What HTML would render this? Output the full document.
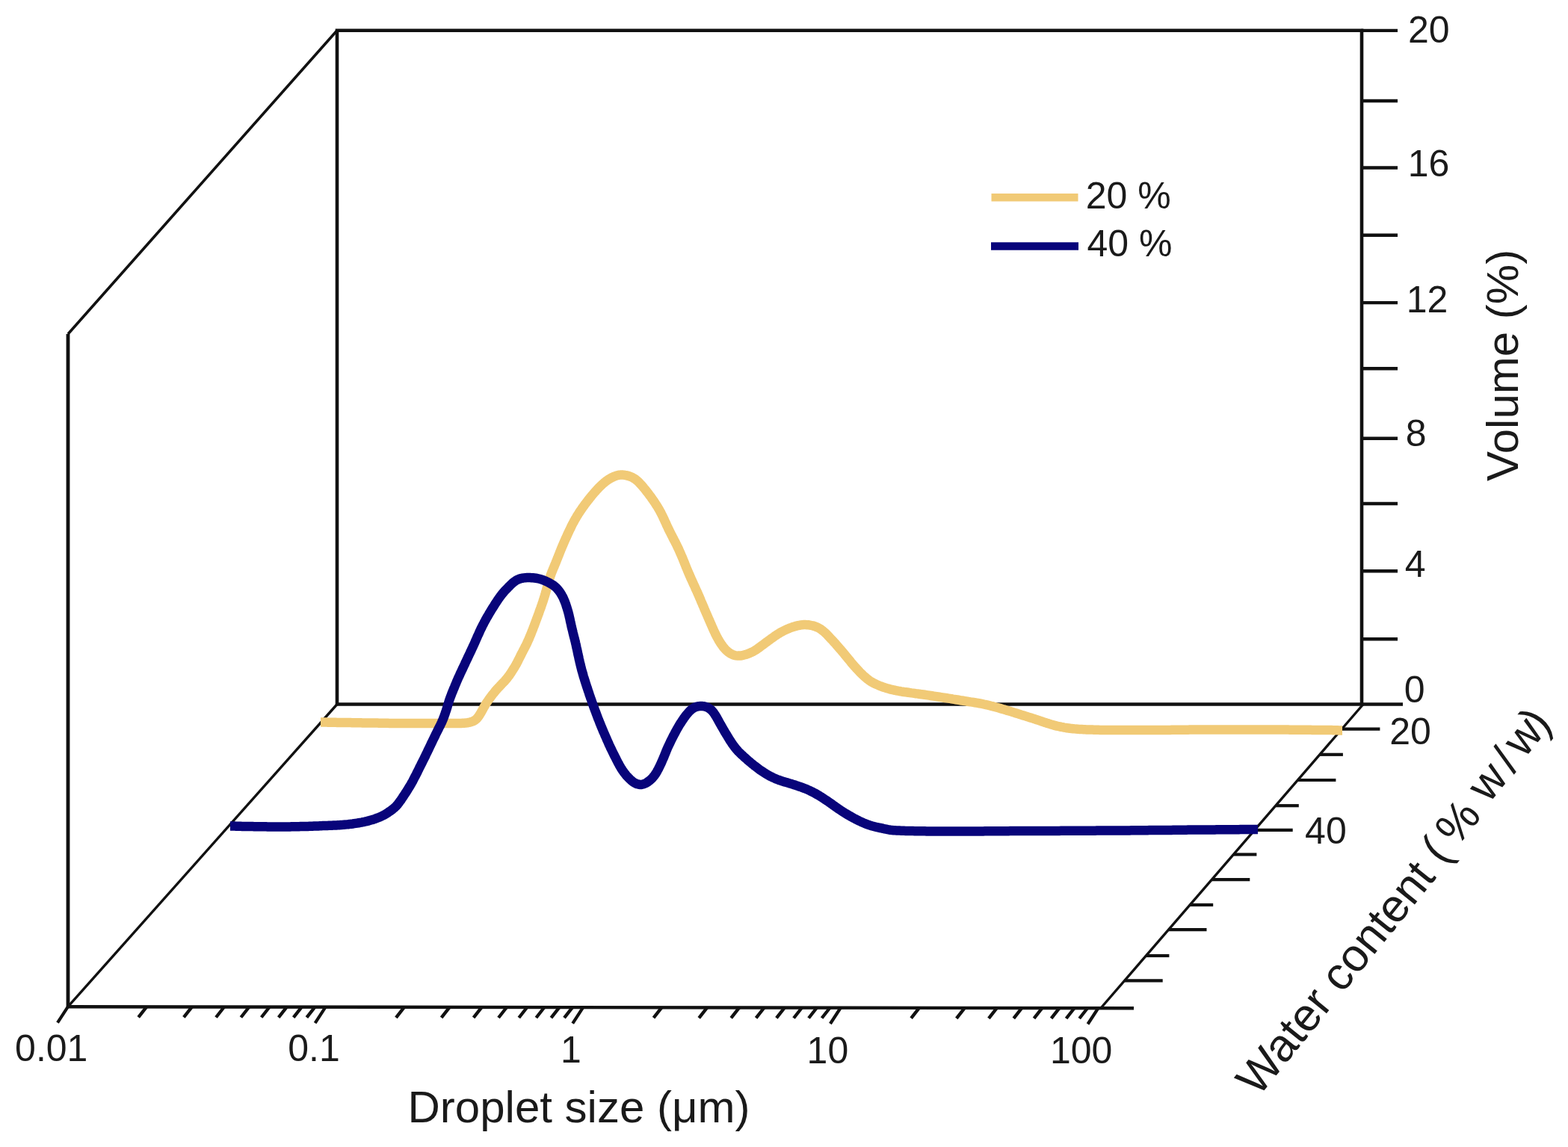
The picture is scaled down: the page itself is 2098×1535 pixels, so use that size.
<!DOCTYPE html>
<html><head><meta charset="utf-8"><title>Droplet size distribution</title>
<style>
html,body{margin:0;padding:0;background:#fff;}
body{width:2098px;height:1535px;overflow:hidden;}
svg{display:block;}
.tk{font-family:"Liberation Sans",sans-serif;font-size:50px;fill:#1a1a1a;}
.ti{font-family:"Liberation Sans",sans-serif;font-size:60px;fill:#1a1a1a;}
</style></head>
<body>
<svg width="2098" height="1535" viewBox="0 0 2098 1535">
<rect width="2098" height="1535" fill="#fff"/>
<path d="M451.0,40.7 L1822.0,40.7 L1822.0,942.5 L451.0,942.5 Z" fill="none" stroke="#111" stroke-width="4.6" stroke-linejoin="miter"/>
<line x1="91.0" y1="447.0" x2="91.0" y2="1347.2" stroke="#111" stroke-width="4.8" stroke-linecap="butt"/>
<line x1="91.0" y1="447.0" x2="451.0" y2="40.7" stroke="#111" stroke-width="3.6" stroke-linecap="butt"/>
<line x1="451.0" y1="942.5" x2="91.0" y2="1347.2" stroke="#111" stroke-width="3.4" stroke-linecap="butt"/>
<line x1="91.0" y1="1347.2" x2="1517.0" y2="1349.2" stroke="#111" stroke-width="4.4" stroke-linecap="butt"/>
<line x1="1824.0" y1="942.5" x2="1473.0" y2="1349.0" stroke="#111" stroke-width="3.4" stroke-linecap="butt"/>
<line x1="1821.0" y1="942.5" x2="1877.0" y2="942.5" stroke="#111" stroke-width="4.4" stroke-linecap="butt"/>
<line x1="1821.0" y1="855.2" x2="1870.0" y2="855.2" stroke="#111" stroke-width="4.4" stroke-linecap="butt"/>
<line x1="1821.0" y1="764.3" x2="1870.0" y2="764.3" stroke="#111" stroke-width="4.4" stroke-linecap="butt"/>
<line x1="1821.0" y1="674.0" x2="1870.0" y2="674.0" stroke="#111" stroke-width="4.4" stroke-linecap="butt"/>
<line x1="1821.0" y1="586.8" x2="1870.0" y2="586.8" stroke="#111" stroke-width="4.4" stroke-linecap="butt"/>
<line x1="1821.0" y1="493.2" x2="1870.0" y2="493.2" stroke="#111" stroke-width="4.4" stroke-linecap="butt"/>
<line x1="1821.0" y1="405.1" x2="1870.0" y2="405.1" stroke="#111" stroke-width="4.4" stroke-linecap="butt"/>
<line x1="1821.0" y1="314.8" x2="1870.0" y2="314.8" stroke="#111" stroke-width="4.4" stroke-linecap="butt"/>
<line x1="1821.0" y1="224.5" x2="1870.0" y2="224.5" stroke="#111" stroke-width="4.4" stroke-linecap="butt"/>
<line x1="1821.0" y1="135.0" x2="1870.0" y2="135.0" stroke="#111" stroke-width="4.4" stroke-linecap="butt"/>
<line x1="1821.0" y1="40.9" x2="1870.0" y2="40.9" stroke="#111" stroke-width="4.4" stroke-linecap="butt"/>
<text x="1883.9" y="57.1" class="tk">20</text>
<text x="1883.8" y="236.1" class="tk">16</text>
<text x="1881.8" y="418.1" class="tk">12</text>
<text x="1880.8" y="597.0" class="tk">8</text>
<text x="1879.7" y="772.1" class="tk">4</text>
<text x="1878.8" y="939.8" class="tk">0</text>
<line x1="91.0" y1="1347.2" x2="77.0" y2="1368.7" stroke="#111" stroke-width="4.2" stroke-linecap="butt"/>
<line x1="196.2" y1="1347.3" x2="185.2" y2="1361.3" stroke="#111" stroke-width="4.4" stroke-linecap="butt"/>
<line x1="256.9" y1="1347.4" x2="245.9" y2="1361.4" stroke="#111" stroke-width="4.4" stroke-linecap="butt"/>
<line x1="300.0" y1="1347.5" x2="289.0" y2="1361.5" stroke="#111" stroke-width="4.4" stroke-linecap="butt"/>
<line x1="333.4" y1="1347.5" x2="322.4" y2="1361.5" stroke="#111" stroke-width="4.4" stroke-linecap="butt"/>
<line x1="360.7" y1="1347.5" x2="349.7" y2="1361.5" stroke="#111" stroke-width="4.4" stroke-linecap="butt"/>
<line x1="383.7" y1="1347.6" x2="372.7" y2="1361.6" stroke="#111" stroke-width="4.4" stroke-linecap="butt"/>
<line x1="403.7" y1="1347.6" x2="392.7" y2="1361.6" stroke="#111" stroke-width="4.4" stroke-linecap="butt"/>
<line x1="421.4" y1="1347.6" x2="410.4" y2="1361.6" stroke="#111" stroke-width="4.4" stroke-linecap="butt"/>
<line x1="435.6" y1="1347.6" x2="421.6" y2="1369.1" stroke="#111" stroke-width="4.2" stroke-linecap="butt"/>
<line x1="540.9" y1="1347.8" x2="529.9" y2="1361.8" stroke="#111" stroke-width="4.4" stroke-linecap="butt"/>
<line x1="601.6" y1="1347.9" x2="590.6" y2="1361.9" stroke="#111" stroke-width="4.4" stroke-linecap="butt"/>
<line x1="644.6" y1="1347.9" x2="633.6" y2="1361.9" stroke="#111" stroke-width="4.4" stroke-linecap="butt"/>
<line x1="678.0" y1="1348.0" x2="667.0" y2="1362.0" stroke="#111" stroke-width="4.4" stroke-linecap="butt"/>
<line x1="705.3" y1="1348.0" x2="694.3" y2="1362.0" stroke="#111" stroke-width="4.4" stroke-linecap="butt"/>
<line x1="728.4" y1="1348.0" x2="717.4" y2="1362.0" stroke="#111" stroke-width="4.4" stroke-linecap="butt"/>
<line x1="748.4" y1="1348.1" x2="737.4" y2="1362.1" stroke="#111" stroke-width="4.4" stroke-linecap="butt"/>
<line x1="766.0" y1="1348.1" x2="755.0" y2="1362.1" stroke="#111" stroke-width="4.4" stroke-linecap="butt"/>
<line x1="780.2" y1="1348.1" x2="766.2" y2="1369.6" stroke="#111" stroke-width="4.2" stroke-linecap="butt"/>
<line x1="885.5" y1="1348.2" x2="874.5" y2="1362.2" stroke="#111" stroke-width="4.4" stroke-linecap="butt"/>
<line x1="946.2" y1="1348.3" x2="935.2" y2="1362.3" stroke="#111" stroke-width="4.4" stroke-linecap="butt"/>
<line x1="989.2" y1="1348.4" x2="978.2" y2="1362.4" stroke="#111" stroke-width="4.4" stroke-linecap="butt"/>
<line x1="1022.6" y1="1348.4" x2="1011.6" y2="1362.4" stroke="#111" stroke-width="4.4" stroke-linecap="butt"/>
<line x1="1049.9" y1="1348.4" x2="1038.9" y2="1362.4" stroke="#111" stroke-width="4.4" stroke-linecap="butt"/>
<line x1="1073.0" y1="1348.5" x2="1062.0" y2="1362.5" stroke="#111" stroke-width="4.4" stroke-linecap="butt"/>
<line x1="1093.0" y1="1348.5" x2="1082.0" y2="1362.5" stroke="#111" stroke-width="4.4" stroke-linecap="butt"/>
<line x1="1110.6" y1="1348.5" x2="1099.6" y2="1362.5" stroke="#111" stroke-width="4.4" stroke-linecap="butt"/>
<line x1="1124.9" y1="1348.5" x2="1110.9" y2="1370.0" stroke="#111" stroke-width="4.2" stroke-linecap="butt"/>
<line x1="1230.1" y1="1348.7" x2="1219.1" y2="1362.7" stroke="#111" stroke-width="4.4" stroke-linecap="butt"/>
<line x1="1290.8" y1="1348.8" x2="1279.8" y2="1362.8" stroke="#111" stroke-width="4.4" stroke-linecap="butt"/>
<line x1="1333.9" y1="1348.8" x2="1322.9" y2="1362.8" stroke="#111" stroke-width="4.4" stroke-linecap="butt"/>
<line x1="1367.3" y1="1348.9" x2="1356.3" y2="1362.9" stroke="#111" stroke-width="4.4" stroke-linecap="butt"/>
<line x1="1394.5" y1="1348.9" x2="1383.5" y2="1362.9" stroke="#111" stroke-width="4.4" stroke-linecap="butt"/>
<line x1="1417.6" y1="1348.9" x2="1406.6" y2="1362.9" stroke="#111" stroke-width="4.4" stroke-linecap="butt"/>
<line x1="1437.6" y1="1349.0" x2="1426.6" y2="1363.0" stroke="#111" stroke-width="4.4" stroke-linecap="butt"/>
<line x1="1455.2" y1="1349.0" x2="1444.2" y2="1363.0" stroke="#111" stroke-width="4.4" stroke-linecap="butt"/>
<line x1="1469.5" y1="1349.0" x2="1455.5" y2="1370.5" stroke="#111" stroke-width="4.2" stroke-linecap="butt"/>
<text x="20.1" y="1419.5" class="tk">0.01</text>
<text x="385.3" y="1419.8" class="tk">0.1</text>
<text x="749.9" y="1421.7" class="tk">1</text>
<text x="1079.6" y="1422.9" class="tk">10</text>
<text x="1404.9" y="1422.9" class="tk">100</text>
<line x1="1795.4" y1="975.6" x2="1846.4" y2="975.6" stroke="#111" stroke-width="4.2" stroke-linecap="butt"/>
<line x1="1765.9" y1="1009.8" x2="1796.9" y2="1009.8" stroke="#111" stroke-width="4.2" stroke-linecap="butt"/>
<line x1="1736.4" y1="1044.0" x2="1787.4" y2="1044.0" stroke="#111" stroke-width="4.2" stroke-linecap="butt"/>
<line x1="1706.8" y1="1078.2" x2="1737.8" y2="1078.2" stroke="#111" stroke-width="4.2" stroke-linecap="butt"/>
<line x1="1678.7" y1="1110.8" x2="1729.7" y2="1110.8" stroke="#111" stroke-width="4.2" stroke-linecap="butt"/>
<line x1="1650.4" y1="1143.5" x2="1681.4" y2="1143.5" stroke="#111" stroke-width="4.2" stroke-linecap="butt"/>
<line x1="1621.3" y1="1177.2" x2="1672.3" y2="1177.2" stroke="#111" stroke-width="4.2" stroke-linecap="butt"/>
<line x1="1592.2" y1="1211.0" x2="1623.2" y2="1211.0" stroke="#111" stroke-width="4.2" stroke-linecap="butt"/>
<line x1="1563.5" y1="1244.2" x2="1614.5" y2="1244.2" stroke="#111" stroke-width="4.2" stroke-linecap="butt"/>
<line x1="1533.4" y1="1279.0" x2="1564.4" y2="1279.0" stroke="#111" stroke-width="4.2" stroke-linecap="butt"/>
<line x1="1504.7" y1="1312.3" x2="1555.7" y2="1312.3" stroke="#111" stroke-width="4.2" stroke-linecap="butt"/>
<line x1="1473.0" y1="1349.0" x2="1517.0" y2="1349.0" stroke="#111" stroke-width="4.2" stroke-linecap="butt"/>
<text x="1859.3" y="995.6" class="tk">20</text>
<text x="1746.1" y="1129.0" class="tk">40</text>
<path d="M429.0,966.5 L431.0,966.5 L433.0,966.6 L435.0,966.6 L437.0,966.6 L439.0,966.7 L441.0,966.7 L443.0,966.7 L445.0,966.8 L447.0,966.8 L449.0,966.8 L451.0,966.9 L453.0,966.9 L455.0,966.9 L457.0,967.0 L459.0,967.0 L461.0,967.0 L463.0,967.0 L465.0,967.1 L467.0,967.1 L469.0,967.1 L471.0,967.2 L473.0,967.2 L475.0,967.2 L477.0,967.3 L479.0,967.3 L481.0,967.3 L483.0,967.3 L485.0,967.4 L487.0,967.4 L489.0,967.4 L491.0,967.4 L493.0,967.5 L495.0,967.5 L497.0,967.5 L499.0,967.6 L501.0,967.6 L503.0,967.6 L505.0,967.6 L507.0,967.7 L509.0,967.7 L511.0,967.7 L513.0,967.8 L515.0,967.8 L517.0,967.8 L519.0,967.8 L521.0,967.9 L523.0,967.9 L525.0,967.9 L527.0,967.9 L529.0,967.9 L531.0,968.0 L533.0,968.0 L535.0,968.0 L537.0,968.0 L539.0,968.0 L541.0,968.0 L543.0,968.0 L545.0,968.0 L547.0,968.0 L549.0,968.0 L551.0,968.0 L553.0,968.0 L555.0,968.0 L557.0,968.0 L559.0,968.0 L561.0,968.0 L563.0,968.0 L565.0,968.0 L567.0,968.0 L569.0,968.0 L571.0,968.0 L573.0,968.0 L575.0,968.0 L577.0,968.0 L579.0,968.0 L581.0,968.0 L583.0,968.0 L585.0,968.0 L587.0,968.0 L589.0,968.0 L591.0,968.0 L593.0,968.0 L595.0,968.0 L597.0,968.0 L599.0,968.0 L601.0,968.0 L603.0,968.0 L605.0,968.0 L607.0,968.0 L609.0,968.0 L611.0,968.0 L613.0,968.0 L615.0,967.9 L617.0,967.9 L619.0,967.8 L621.0,967.7 L623.0,967.6 L624.9,967.3 L626.9,967.0 L628.8,966.6 L630.7,966.0 L632.6,965.3 L634.3,964.5 L636.0,963.4 L637.5,962.2 L638.8,960.8 L640.0,959.2 L641.2,957.6 L642.2,955.9 L643.3,954.2 L644.2,952.5 L645.2,950.7 L646.1,949.0 L647.1,947.2 L648.1,945.5 L649.1,943.7 L650.1,942.0 L651.2,940.3 L652.3,938.7 L653.5,937.0 L654.6,935.4 L655.8,933.8 L657.0,932.2 L658.2,930.6 L659.4,929.0 L660.7,927.5 L661.9,925.9 L663.2,924.4 L664.5,922.8 L665.8,921.3 L667.2,919.9 L668.6,918.4 L669.9,917.0 L671.3,915.6 L672.7,914.1 L674.1,912.7 L675.5,911.2 L676.8,909.7 L678.1,908.2 L679.3,906.6 L680.5,905.0 L681.7,903.4 L682.8,901.8 L683.9,900.1 L685.0,898.4 L686.1,896.7 L687.1,895.0 L688.2,893.3 L689.2,891.6 L690.2,889.9 L691.2,888.1 L692.1,886.4 L693.0,884.6 L693.9,882.8 L694.8,881.0 L695.7,879.2 L696.6,877.4 L697.5,875.6 L698.4,873.8 L699.3,872.1 L700.2,870.3 L701.2,868.5 L702.1,866.7 L703.0,865.0 L703.9,863.2 L704.8,861.4 L705.6,859.6 L706.4,857.8 L707.3,855.9 L708.1,854.1 L708.8,852.3 L709.6,850.4 L710.4,848.6 L711.1,846.7 L711.8,844.8 L712.6,843.0 L713.3,841.1 L714.0,839.2 L714.7,837.4 L715.4,835.5 L716.1,833.6 L716.8,831.8 L717.5,829.9 L718.2,828.0 L718.9,826.1 L719.6,824.3 L720.3,822.4 L721.0,820.5 L721.6,818.6 L722.3,816.7 L723.0,814.8 L723.7,813.0 L724.3,811.1 L725.0,809.2 L725.6,807.3 L726.3,805.4 L726.9,803.5 L727.5,801.6 L728.1,799.7 L728.7,797.8 L729.3,795.9 L729.8,793.9 L730.4,792.0 L730.9,790.1 L731.4,788.2 L731.9,786.2 L732.5,784.3 L733.0,782.4 L733.5,780.4 L734.1,778.5 L734.6,776.6 L735.2,774.7 L735.8,772.8 L736.4,770.9 L737.1,769.0 L737.8,767.1 L738.5,765.3 L739.3,763.4 L740.0,761.5 L740.8,759.7 L741.6,757.9 L742.3,756.0 L743.1,754.2 L743.9,752.3 L744.6,750.5 L745.3,748.6 L746.1,746.7 L746.8,744.9 L747.6,743.0 L748.3,741.2 L749.0,739.3 L749.8,737.4 L750.5,735.6 L751.3,733.7 L752.0,731.9 L752.8,730.1 L753.6,728.2 L754.4,726.4 L755.2,724.5 L756.0,722.7 L756.8,720.9 L757.7,719.1 L758.5,717.2 L759.3,715.4 L760.1,713.6 L761.0,711.8 L761.8,710.0 L762.7,708.2 L763.6,706.4 L764.4,704.6 L765.3,702.8 L766.2,701.0 L767.2,699.2 L768.1,697.5 L769.1,695.7 L770.1,694.0 L771.1,692.3 L772.1,690.5 L773.2,688.8 L774.2,687.2 L775.3,685.5 L776.4,683.8 L777.6,682.2 L778.7,680.5 L779.8,678.9 L781.0,677.3 L782.2,675.6 L783.4,674.0 L784.6,672.4 L785.8,670.9 L787.0,669.3 L788.3,667.7 L789.5,666.1 L790.8,664.6 L792.0,663.0 L793.3,661.5 L794.6,660.0 L795.9,658.5 L797.3,657.0 L798.6,655.5 L800.0,654.0 L801.3,652.6 L802.7,651.2 L804.2,649.8 L805.6,648.4 L807.1,647.1 L808.6,645.8 L810.2,644.5 L811.8,643.3 L813.4,642.2 L815.1,641.1 L816.8,640.1 L818.6,639.2 L820.4,638.3 L822.2,637.5 L824.1,636.8 L826.0,636.3 L827.9,635.8 L829.9,635.6 L831.8,635.5 L833.8,635.6 L835.8,635.8 L837.7,636.1 L839.7,636.6 L841.6,637.1 L843.5,637.8 L845.3,638.5 L847.0,639.4 L848.7,640.5 L850.4,641.6 L851.9,642.8 L853.4,644.1 L854.9,645.5 L856.2,646.9 L857.6,648.4 L858.9,649.9 L860.2,651.4 L861.5,653.0 L862.8,654.5 L864.0,656.1 L865.2,657.7 L866.5,659.2 L867.7,660.8 L868.9,662.4 L870.1,664.0 L871.3,665.6 L872.4,667.3 L873.6,668.9 L874.7,670.5 L875.8,672.2 L876.9,673.9 L878.0,675.6 L879.1,677.2 L880.1,678.9 L881.2,680.7 L882.2,682.4 L883.1,684.1 L884.1,685.9 L885.0,687.7 L885.9,689.5 L886.8,691.3 L887.6,693.1 L888.5,694.9 L889.3,696.7 L890.1,698.5 L891.0,700.3 L891.8,702.2 L892.6,704.0 L893.5,705.8 L894.3,707.6 L895.2,709.4 L896.1,711.2 L897.0,713.0 L897.9,714.8 L898.8,716.5 L899.7,718.3 L900.6,720.1 L901.5,721.9 L902.5,723.7 L903.4,725.4 L904.3,727.2 L905.2,729.0 L906.0,730.8 L906.9,732.6 L907.8,734.4 L908.6,736.2 L909.4,738.1 L910.2,739.9 L911.0,741.7 L911.8,743.6 L912.6,745.4 L913.4,747.2 L914.1,749.1 L914.9,751.0 L915.6,752.8 L916.4,754.7 L917.1,756.5 L917.8,758.4 L918.6,760.2 L919.4,762.1 L920.1,763.9 L920.9,765.8 L921.7,767.6 L922.5,769.4 L923.3,771.3 L924.1,773.1 L924.9,774.9 L925.8,776.7 L926.6,778.6 L927.4,780.4 L928.2,782.2 L929.1,784.0 L929.9,785.8 L930.7,787.7 L931.5,789.5 L932.4,791.3 L933.2,793.1 L934.0,795.0 L934.8,796.8 L935.6,798.6 L936.4,800.5 L937.2,802.3 L937.9,804.2 L938.7,806.0 L939.5,807.8 L940.3,809.7 L941.1,811.5 L941.9,813.4 L942.6,815.2 L943.4,817.0 L944.2,818.9 L945.0,820.7 L945.8,822.5 L946.6,824.4 L947.4,826.2 L948.2,828.1 L949.0,829.9 L949.8,831.7 L950.6,833.6 L951.4,835.4 L952.2,837.2 L953.0,839.1 L953.8,840.9 L954.6,842.7 L955.4,844.5 L956.3,846.3 L957.1,848.1 L958.0,849.9 L958.9,851.7 L959.9,853.5 L960.8,855.2 L961.8,857.0 L962.8,858.7 L963.9,860.4 L965.0,862.0 L966.2,863.7 L967.3,865.3 L968.6,866.8 L969.9,868.4 L971.3,869.8 L972.7,871.2 L974.2,872.4 L975.8,873.6 L977.5,874.7 L979.2,875.6 L981.1,876.4 L982.9,877.0 L984.8,877.4 L986.8,877.6 L988.7,877.6 L990.7,877.5 L992.7,877.2 L994.6,876.8 L996.5,876.3 L998.5,875.7 L1000.3,875.1 L1002.2,874.4 L1004.1,873.6 L1005.9,872.8 L1007.6,871.9 L1009.4,870.9 L1011.1,869.9 L1012.8,868.8 L1014.4,867.6 L1016.0,866.5 L1017.6,865.3 L1019.2,864.1 L1020.8,862.9 L1022.4,861.7 L1024.0,860.5 L1025.6,859.3 L1027.3,858.1 L1028.9,856.9 L1030.5,855.8 L1032.1,854.6 L1033.7,853.4 L1035.4,852.3 L1037.0,851.1 L1038.7,850.0 L1040.3,848.9 L1042.0,847.9 L1043.7,846.8 L1045.5,845.8 L1047.2,844.9 L1049.0,844.0 L1050.8,843.1 L1052.6,842.3 L1054.5,841.5 L1056.3,840.7 L1058.2,840.0 L1060.1,839.3 L1062.0,838.7 L1063.9,838.1 L1065.8,837.6 L1067.7,837.2 L1069.7,836.8 L1071.7,836.4 L1073.6,836.2 L1075.6,836.1 L1077.6,836.1 L1079.6,836.2 L1081.6,836.3 L1083.6,836.6 L1085.5,837.0 L1087.5,837.4 L1089.4,837.9 L1091.3,838.6 L1093.1,839.3 L1094.9,840.1 L1096.7,841.1 L1098.3,842.2 L1099.9,843.3 L1101.5,844.6 L1103.0,845.9 L1104.5,847.2 L1105.9,848.6 L1107.3,850.1 L1108.7,851.5 L1110.0,852.9 L1111.4,854.4 L1112.8,855.9 L1114.2,857.3 L1115.5,858.8 L1116.8,860.3 L1118.2,861.8 L1119.5,863.3 L1120.8,864.8 L1122.1,866.3 L1123.4,867.8 L1124.7,869.3 L1126.0,870.9 L1127.3,872.4 L1128.6,873.9 L1129.9,875.5 L1131.1,877.0 L1132.4,878.6 L1133.7,880.1 L1134.9,881.7 L1136.2,883.2 L1137.5,884.7 L1138.7,886.3 L1140.0,887.8 L1141.3,889.3 L1142.6,890.8 L1144.0,892.4 L1145.3,893.8 L1146.6,895.3 L1148.0,896.8 L1149.4,898.3 L1150.7,899.7 L1152.2,901.1 L1153.6,902.5 L1155.0,903.9 L1156.5,905.2 L1158.0,906.5 L1159.5,907.8 L1161.1,909.1 L1162.7,910.3 L1164.3,911.4 L1166.0,912.5 L1167.8,913.5 L1169.5,914.4 L1171.3,915.3 L1173.1,916.1 L1174.9,916.9 L1176.8,917.7 L1178.6,918.4 L1180.5,919.1 L1182.4,919.8 L1184.3,920.4 L1186.2,921.0 L1188.1,921.5 L1190.1,922.1 L1192.0,922.6 L1194.0,923.0 L1195.9,923.5 L1197.9,923.9 L1199.8,924.3 L1201.8,924.7 L1203.7,925.0 L1205.7,925.4 L1207.7,925.7 L1209.7,926.0 L1211.7,926.2 L1213.6,926.5 L1215.6,926.8 L1217.6,927.1 L1219.6,927.4 L1221.6,927.6 L1223.5,927.9 L1225.5,928.2 L1227.5,928.4 L1229.5,928.7 L1231.5,929.0 L1233.4,929.3 L1235.4,929.5 L1237.4,929.8 L1239.4,930.1 L1241.4,930.4 L1243.3,930.7 L1245.3,931.0 L1247.3,931.3 L1249.3,931.6 L1251.2,931.9 L1253.2,932.2 L1255.2,932.5 L1257.2,932.8 L1259.2,933.1 L1261.1,933.4 L1263.1,933.7 L1265.1,934.0 L1267.1,934.3 L1269.0,934.6 L1271.0,934.9 L1273.0,935.2 L1275.0,935.6 L1276.9,935.9 L1278.9,936.2 L1280.9,936.5 L1282.9,936.8 L1284.8,937.2 L1286.8,937.5 L1288.8,937.8 L1290.8,938.1 L1292.7,938.4 L1294.7,938.8 L1296.7,939.1 L1298.7,939.4 L1300.6,939.6 L1302.6,939.9 L1304.6,940.3 L1306.6,940.6 L1308.5,940.9 L1310.5,941.3 L1312.5,941.6 L1314.4,942.0 L1316.4,942.5 L1318.3,942.9 L1320.3,943.3 L1322.2,943.8 L1324.2,944.3 L1326.1,944.8 L1328.1,945.2 L1330.0,945.8 L1331.9,946.3 L1333.9,946.8 L1335.8,947.3 L1337.7,947.9 L1339.6,948.4 L1341.6,949.0 L1343.5,949.5 L1345.4,950.1 L1347.3,950.7 L1349.2,951.3 L1351.1,951.8 L1353.0,952.4 L1355.0,953.0 L1356.9,953.6 L1358.8,954.2 L1360.7,954.8 L1362.6,955.4 L1364.5,956.0 L1366.4,956.6 L1368.3,957.2 L1370.2,957.8 L1372.1,958.4 L1374.1,959.0 L1376.0,959.6 L1377.9,960.2 L1379.8,960.8 L1381.7,961.4 L1383.6,962.0 L1385.5,962.6 L1387.4,963.3 L1389.3,963.9 L1391.2,964.5 L1393.1,965.2 L1395.0,965.8 L1396.9,966.5 L1398.7,967.1 L1400.7,967.7 L1402.6,968.3 L1404.5,968.9 L1406.4,969.5 L1408.3,970.0 L1410.2,970.6 L1412.2,971.1 L1414.1,971.6 L1416.0,972.0 L1418.0,972.4 L1420.0,972.9 L1421.9,973.2 L1423.9,973.6 L1425.9,973.9 L1427.8,974.3 L1429.8,974.5 L1431.8,974.8 L1433.8,975.0 L1435.8,975.2 L1437.8,975.4 L1439.8,975.6 L1441.7,975.7 L1443.7,975.9 L1445.7,976.0 L1447.7,976.1 L1449.7,976.2 L1451.7,976.3 L1453.7,976.4 L1455.7,976.4 L1457.7,976.5 L1459.7,976.6 L1461.7,976.6 L1463.7,976.7 L1465.7,976.7 L1467.7,976.8 L1469.7,976.8 L1471.7,976.9 L1473.7,976.9 L1475.7,976.9 L1477.7,976.9 L1479.7,977.0 L1481.7,977.0 L1483.7,977.0 L1485.7,977.0 L1487.7,977.0 L1489.7,977.0 L1491.7,977.0 L1493.7,977.0 L1495.7,977.0 L1497.7,977.0 L1499.7,977.0 L1501.7,977.0 L1503.7,977.0 L1505.7,977.0 L1507.7,977.0 L1509.7,977.0 L1511.7,977.0 L1513.7,977.0 L1515.7,977.0 L1517.7,977.0 L1519.7,977.0 L1521.7,977.0 L1523.7,977.0 L1525.7,977.0 L1527.7,977.0 L1529.7,977.0 L1531.7,977.0 L1533.7,977.0 L1535.7,977.0 L1537.7,977.0 L1539.7,977.0 L1541.7,977.0 L1543.7,977.0 L1545.7,977.0 L1547.7,977.0 L1549.7,977.0 L1551.7,977.0 L1553.7,976.9 L1555.7,976.9 L1557.7,976.9 L1559.7,976.9 L1561.7,976.9 L1563.7,976.9 L1565.7,976.9 L1567.7,976.8 L1569.7,976.8 L1571.7,976.8 L1573.7,976.8 L1575.7,976.8 L1577.7,976.8 L1579.7,976.7 L1581.7,976.7 L1583.7,976.7 L1585.7,976.7 L1587.7,976.7 L1589.7,976.7 L1591.7,976.6 L1593.7,976.6 L1595.7,976.6 L1597.7,976.6 L1599.7,976.6 L1601.7,976.6 L1603.7,976.6 L1605.7,976.5 L1607.7,976.5 L1609.7,976.5 L1611.7,976.5 L1613.7,976.5 L1615.7,976.5 L1617.7,976.5 L1619.7,976.5 L1621.7,976.5 L1623.7,976.5 L1625.7,976.5 L1627.7,976.5 L1629.7,976.5 L1631.7,976.5 L1633.7,976.5 L1635.7,976.5 L1637.7,976.4 L1639.7,976.4 L1641.7,976.4 L1643.7,976.4 L1645.7,976.4 L1647.7,976.4 L1649.7,976.4 L1651.7,976.4 L1653.7,976.4 L1655.7,976.4 L1657.7,976.4 L1659.7,976.4 L1661.7,976.4 L1663.7,976.4 L1665.7,976.4 L1667.7,976.4 L1669.7,976.4 L1671.7,976.5 L1673.7,976.5 L1675.7,976.5 L1677.7,976.5 L1679.7,976.5 L1681.7,976.5 L1683.7,976.5 L1685.7,976.5 L1687.7,976.5 L1689.7,976.5 L1691.7,976.5 L1693.7,976.5 L1695.7,976.5 L1697.7,976.5 L1699.7,976.5 L1701.7,976.5 L1703.7,976.5 L1705.7,976.6 L1707.7,976.6 L1709.7,976.6 L1711.7,976.6 L1713.7,976.6 L1715.7,976.6 L1717.7,976.6 L1719.7,976.6 L1721.7,976.6 L1723.7,976.6 L1725.7,976.7 L1727.7,976.7 L1729.7,976.7 L1731.7,976.7 L1733.7,976.7 L1735.7,976.7 L1737.7,976.7 L1739.7,976.7 L1741.7,976.8 L1743.7,976.8 L1745.7,976.8 L1747.7,976.8 L1749.7,976.8 L1751.7,976.8 L1753.7,976.8 L1755.7,976.9 L1757.7,976.9 L1759.7,976.9 L1761.7,976.9 L1763.7,976.9 L1765.7,976.9 L1767.7,977.0 L1769.7,977.0 L1771.7,977.0 L1773.7,977.0 L1775.7,977.0 L1777.7,977.1 L1779.7,977.1 L1781.7,977.1 L1783.7,977.2 L1785.7,977.2 L1787.7,977.3 L1789.7,977.3 L1791.6,977.4 L1793.4,977.4 L1795.1,977.5 L1796.0,977.5" fill="none" stroke="#f1ca76" stroke-width="12.5" stroke-linejoin="round" stroke-linecap="butt"/>
<path d="M308.0,1105.5 L310.0,1105.5 L312.0,1105.6 L314.0,1105.6 L316.0,1105.7 L318.0,1105.7 L320.0,1105.8 L322.0,1105.8 L324.0,1105.9 L326.0,1105.9 L328.0,1105.9 L330.0,1106.0 L332.0,1106.0 L334.0,1106.1 L336.0,1106.1 L338.0,1106.1 L340.0,1106.2 L342.0,1106.2 L344.0,1106.2 L346.0,1106.2 L348.0,1106.3 L350.0,1106.3 L352.0,1106.3 L354.0,1106.3 L356.0,1106.3 L358.0,1106.4 L360.0,1106.4 L362.0,1106.4 L364.0,1106.4 L366.0,1106.4 L368.0,1106.4 L370.0,1106.4 L372.0,1106.4 L374.0,1106.4 L376.0,1106.4 L378.0,1106.4 L380.0,1106.4 L382.0,1106.4 L384.0,1106.4 L386.0,1106.4 L388.0,1106.4 L390.0,1106.3 L392.0,1106.3 L394.0,1106.3 L396.0,1106.3 L398.0,1106.2 L400.0,1106.2 L402.0,1106.1 L404.0,1106.1 L406.0,1106.0 L408.0,1106.0 L410.0,1105.9 L412.0,1105.9 L414.0,1105.8 L416.0,1105.7 L418.0,1105.7 L420.0,1105.6 L422.0,1105.5 L424.0,1105.4 L426.0,1105.4 L428.0,1105.3 L430.0,1105.2 L432.0,1105.1 L434.0,1105.0 L436.0,1105.0 L438.0,1104.9 L440.0,1104.8 L442.0,1104.7 L444.0,1104.7 L446.0,1104.6 L448.0,1104.5 L450.0,1104.4 L452.0,1104.3 L454.0,1104.2 L455.9,1104.0 L457.9,1103.9 L459.9,1103.7 L461.9,1103.6 L463.9,1103.4 L465.9,1103.2 L467.9,1102.9 L469.9,1102.7 L471.9,1102.5 L473.8,1102.2 L475.8,1101.9 L477.8,1101.6 L479.8,1101.3 L481.7,1100.9 L483.7,1100.6 L485.7,1100.2 L487.6,1099.8 L489.6,1099.3 L491.5,1098.9 L493.5,1098.4 L495.4,1097.8 L497.3,1097.3 L499.2,1096.7 L501.1,1096.1 L503.0,1095.4 L504.9,1094.7 L506.7,1094.0 L508.6,1093.2 L510.4,1092.4 L512.2,1091.5 L514.0,1090.6 L515.7,1089.6 L517.4,1088.6 L519.1,1087.5 L520.7,1086.3 L522.4,1085.2 L524.0,1084.0 L525.5,1082.8 L527.1,1081.5 L528.6,1080.2 L530.0,1078.8 L531.3,1077.3 L532.6,1075.8 L533.8,1074.2 L535.0,1072.6 L536.2,1071.0 L537.3,1069.3 L538.4,1067.7 L539.5,1066.0 L540.6,1064.3 L541.7,1062.7 L542.8,1061.0 L543.9,1059.3 L545.0,1057.6 L546.0,1055.9 L547.1,1054.2 L548.1,1052.5 L549.1,1050.8 L550.1,1049.1 L551.1,1047.3 L552.1,1045.6 L553.0,1043.8 L553.9,1042.0 L554.8,1040.2 L555.8,1038.5 L556.7,1036.7 L557.6,1034.9 L558.5,1033.1 L559.4,1031.3 L560.3,1029.5 L561.1,1027.7 L562.0,1026.0 L562.9,1024.2 L563.8,1022.4 L564.7,1020.6 L565.6,1018.8 L566.5,1017.0 L567.4,1015.2 L568.3,1013.4 L569.2,1011.6 L570.0,1009.8 L570.9,1008.0 L571.8,1006.2 L572.6,1004.4 L573.5,1002.6 L574.4,1000.8 L575.2,999.0 L576.1,997.2 L576.9,995.4 L577.8,993.6 L578.7,991.8 L579.5,990.0 L580.4,988.2 L581.3,986.4 L582.2,984.6 L583.0,982.8 L583.9,981.0 L584.8,979.2 L585.7,977.4 L586.6,975.6 L587.5,973.8 L588.4,972.0 L589.3,970.3 L590.1,968.5 L591.0,966.7 L591.8,964.8 L592.6,963.0 L593.3,961.1 L594.1,959.3 L594.7,957.4 L595.4,955.5 L596.0,953.6 L596.7,951.7 L597.3,949.8 L597.9,947.9 L598.5,946.0 L599.0,944.1 L599.6,942.2 L600.2,940.2 L600.8,938.3 L601.4,936.4 L602.1,934.6 L602.8,932.7 L603.5,930.8 L604.2,928.9 L604.9,927.1 L605.7,925.2 L606.4,923.4 L607.2,921.5 L608.0,919.7 L608.7,917.8 L609.5,916.0 L610.3,914.1 L611.0,912.3 L611.8,910.5 L612.6,908.6 L613.4,906.8 L614.3,905.0 L615.1,903.2 L615.9,901.3 L616.8,899.5 L617.6,897.7 L618.5,895.9 L619.3,894.1 L620.2,892.3 L621.0,890.5 L621.9,888.7 L622.7,886.8 L623.6,885.0 L624.4,883.2 L625.3,881.4 L626.1,879.6 L627.0,877.8 L627.8,876.0 L628.7,874.2 L629.5,872.4 L630.4,870.6 L631.2,868.8 L632.1,866.9 L632.9,865.1 L633.8,863.3 L634.6,861.5 L635.4,859.7 L636.2,857.8 L637.0,856.0 L637.8,854.2 L638.6,852.3 L639.4,850.5 L640.3,848.7 L641.1,846.9 L641.9,845.0 L642.7,843.2 L643.6,841.4 L644.5,839.6 L645.4,837.8 L646.3,836.0 L647.2,834.3 L648.1,832.5 L649.1,830.7 L650.0,829.0 L651.0,827.2 L652.0,825.5 L653.0,823.8 L654.0,822.1 L655.0,820.3 L656.1,818.6 L657.1,816.9 L658.2,815.2 L659.2,813.5 L660.3,811.8 L661.4,810.1 L662.4,808.4 L663.5,806.8 L664.6,805.1 L665.7,803.4 L666.8,801.8 L668.0,800.1 L669.1,798.5 L670.3,796.9 L671.5,795.3 L672.8,793.8 L674.1,792.2 L675.4,790.8 L676.8,789.3 L678.2,787.9 L679.6,786.4 L681.0,785.0 L682.4,783.6 L683.8,782.2 L685.3,780.8 L686.8,779.5 L688.4,778.3 L690.0,777.2 L691.7,776.2 L693.5,775.3 L695.3,774.6 L697.2,774.1 L699.1,773.7 L701.1,773.4 L703.1,773.2 L705.1,773.1 L707.1,773.1 L709.1,773.1 L711.1,773.2 L713.1,773.3 L715.1,773.5 L717.0,773.7 L719.0,774.1 L720.9,774.5 L722.9,775.0 L724.8,775.6 L726.6,776.2 L728.5,777.0 L730.3,777.8 L732.1,778.6 L733.9,779.5 L735.7,780.5 L737.4,781.4 L739.1,782.5 L740.8,783.6 L742.3,784.8 L743.8,786.1 L745.2,787.6 L746.5,789.0 L747.8,790.6 L749.0,792.2 L750.1,793.8 L751.1,795.5 L752.1,797.3 L753.1,799.0 L753.9,800.8 L754.7,802.7 L755.5,804.5 L756.2,806.4 L756.9,808.2 L757.5,810.1 L758.1,812.0 L758.7,813.9 L759.3,815.9 L759.9,817.8 L760.4,819.7 L760.9,821.6 L761.4,823.6 L761.8,825.5 L762.3,827.5 L762.7,829.4 L763.1,831.4 L763.5,833.3 L764.0,835.3 L764.4,837.3 L764.8,839.2 L765.3,841.1 L765.8,843.1 L766.3,845.0 L766.7,847.0 L767.2,848.9 L767.7,850.9 L768.2,852.8 L768.7,854.7 L769.2,856.7 L769.7,858.6 L770.1,860.6 L770.6,862.5 L771.0,864.5 L771.4,866.4 L771.9,868.4 L772.3,870.3 L772.7,872.3 L773.1,874.2 L773.5,876.2 L774.0,878.1 L774.4,880.1 L774.8,882.1 L775.3,884.0 L775.7,885.9 L776.2,887.9 L776.6,889.8 L777.1,891.8 L777.6,893.7 L778.1,895.7 L778.6,897.6 L779.2,899.5 L779.7,901.4 L780.3,903.4 L780.8,905.3 L781.4,907.2 L782.0,909.1 L782.6,911.0 L783.2,912.9 L783.8,914.8 L784.4,916.7 L785.0,918.6 L785.7,920.5 L786.3,922.4 L786.9,924.3 L787.6,926.2 L788.2,928.1 L788.8,930.0 L789.5,931.9 L790.1,933.8 L790.8,935.7 L791.5,937.6 L792.1,939.5 L792.8,941.3 L793.4,943.2 L794.1,945.1 L794.8,947.0 L795.5,948.9 L796.2,950.8 L796.9,952.6 L797.6,954.5 L798.3,956.4 L799.0,958.2 L799.7,960.1 L800.4,962.0 L801.2,963.8 L801.9,965.7 L802.6,967.6 L803.4,969.4 L804.1,971.3 L804.9,973.1 L805.7,975.0 L806.4,976.8 L807.2,978.7 L808.0,980.5 L808.8,982.3 L809.6,984.2 L810.4,986.0 L811.2,987.8 L812.0,989.7 L812.8,991.5 L813.6,993.3 L814.4,995.1 L815.2,997.0 L816.1,998.8 L816.9,1000.6 L817.8,1002.4 L818.7,1004.2 L819.5,1006.0 L820.4,1007.8 L821.3,1009.6 L822.2,1011.4 L823.1,1013.2 L824.0,1014.9 L824.9,1016.7 L825.8,1018.5 L826.7,1020.3 L827.7,1022.0 L828.6,1023.8 L829.6,1025.5 L830.6,1027.3 L831.7,1029.0 L832.7,1030.7 L833.9,1032.3 L835.0,1033.9 L836.3,1035.5 L837.5,1037.1 L838.8,1038.6 L840.2,1040.0 L841.6,1041.5 L843.0,1042.9 L844.5,1044.2 L846.0,1045.5 L847.6,1046.7 L849.2,1047.7 L851.0,1048.6 L852.8,1049.3 L854.7,1049.8 L856.6,1050.0 L858.5,1049.9 L860.3,1049.5 L862.2,1048.9 L864.0,1048.1 L865.7,1047.1 L867.3,1046.0 L868.9,1044.8 L870.5,1043.5 L871.9,1042.2 L873.3,1040.7 L874.6,1039.2 L875.8,1037.7 L876.9,1036.0 L878.0,1034.3 L879.0,1032.6 L879.9,1030.8 L880.9,1029.1 L881.8,1027.3 L882.7,1025.5 L883.5,1023.7 L884.4,1021.9 L885.2,1020.1 L886.0,1018.3 L886.8,1016.4 L887.6,1014.6 L888.4,1012.7 L889.1,1010.9 L889.9,1009.0 L890.6,1007.2 L891.4,1005.3 L892.1,1003.5 L892.9,1001.6 L893.7,999.8 L894.6,998.0 L895.4,996.2 L896.3,994.4 L897.1,992.6 L898.0,990.8 L898.9,989.0 L899.8,987.2 L900.7,985.4 L901.6,983.6 L902.6,981.9 L903.5,980.1 L904.5,978.3 L905.4,976.6 L906.4,974.8 L907.4,973.1 L908.4,971.4 L909.4,969.7 L910.5,968.0 L911.6,966.3 L912.7,964.6 L913.8,963.0 L914.9,961.3 L916.1,959.7 L917.3,958.1 L918.5,956.5 L919.8,955.0 L921.1,953.5 L922.4,952.0 L923.9,950.6 L925.4,949.3 L927.0,948.2 L928.6,947.2 L930.4,946.3 L932.3,945.7 L934.2,945.3 L936.1,945.1 L938.1,945.0 L940.1,945.1 L942.0,945.3 L943.9,945.8 L945.8,946.4 L947.6,947.2 L949.2,948.2 L950.8,949.4 L952.2,950.7 L953.5,952.2 L954.8,953.7 L955.9,955.3 L957.0,957.0 L958.0,958.7 L959.1,960.4 L960.0,962.2 L961.0,963.9 L962.0,965.7 L962.9,967.4 L963.9,969.2 L964.9,970.9 L965.9,972.7 L966.9,974.4 L967.9,976.1 L968.9,977.8 L969.9,979.6 L971.0,981.3 L972.0,983.0 L973.0,984.7 L974.0,986.4 L975.1,988.1 L976.1,989.8 L977.2,991.5 L978.3,993.2 L979.4,994.9 L980.5,996.5 L981.7,998.1 L982.9,999.7 L984.2,1001.3 L985.5,1002.8 L986.8,1004.3 L988.1,1005.8 L989.5,1007.2 L991.0,1008.6 L992.4,1010.0 L993.9,1011.3 L995.3,1012.7 L996.8,1014.0 L998.3,1015.3 L999.8,1016.7 L1001.3,1018.0 L1002.9,1019.3 L1004.4,1020.6 L1005.9,1021.9 L1007.5,1023.1 L1009.0,1024.4 L1010.6,1025.6 L1012.2,1026.8 L1013.8,1028.0 L1015.4,1029.2 L1017.0,1030.4 L1018.7,1031.5 L1020.3,1032.6 L1022.0,1033.7 L1023.7,1034.8 L1025.4,1035.9 L1027.1,1036.9 L1028.8,1037.9 L1030.6,1038.8 L1032.4,1039.7 L1034.2,1040.6 L1036.0,1041.4 L1037.8,1042.2 L1039.7,1043.0 L1041.6,1043.7 L1043.4,1044.3 L1045.3,1045.0 L1047.2,1045.6 L1049.1,1046.2 L1051.1,1046.8 L1053.0,1047.3 L1054.9,1047.9 L1056.8,1048.5 L1058.7,1049.0 L1060.6,1049.6 L1062.5,1050.2 L1064.4,1050.8 L1066.3,1051.5 L1068.2,1052.1 L1070.1,1052.8 L1072.0,1053.4 L1073.9,1054.1 L1075.8,1054.8 L1077.6,1055.5 L1079.5,1056.3 L1081.3,1057.1 L1083.1,1057.9 L1084.9,1058.8 L1086.7,1059.7 L1088.5,1060.6 L1090.3,1061.5 L1092.0,1062.5 L1093.7,1063.5 L1095.5,1064.5 L1097.2,1065.6 L1098.9,1066.6 L1100.6,1067.7 L1102.2,1068.8 L1103.9,1069.9 L1105.6,1071.0 L1107.2,1072.1 L1108.9,1073.2 L1110.5,1074.4 L1112.1,1075.5 L1113.8,1076.7 L1115.4,1077.9 L1117.0,1079.0 L1118.6,1080.2 L1120.3,1081.4 L1121.9,1082.5 L1123.6,1083.6 L1125.2,1084.7 L1126.9,1085.8 L1128.6,1086.9 L1130.3,1087.9 L1132.0,1089.0 L1133.7,1090.0 L1135.4,1091.0 L1137.2,1092.0 L1138.9,1093.0 L1140.7,1094.0 L1142.4,1094.9 L1144.2,1095.9 L1146.0,1096.8 L1147.7,1097.7 L1149.5,1098.6 L1151.3,1099.4 L1153.2,1100.3 L1155.0,1101.1 L1156.8,1101.9 L1158.7,1102.6 L1160.6,1103.3 L1162.4,1104.0 L1164.3,1104.6 L1166.2,1105.2 L1168.2,1105.7 L1170.1,1106.2 L1172.0,1106.7 L1174.0,1107.2 L1175.9,1107.6 L1177.9,1108.0 L1179.9,1108.4 L1181.8,1108.9 L1183.8,1109.3 L1185.7,1109.7 L1187.7,1110.1 L1189.6,1110.5 L1191.6,1110.8 L1193.6,1111.0 L1195.6,1111.2 L1197.6,1111.3 L1199.6,1111.4 L1201.6,1111.5 L1203.6,1111.6 L1205.6,1111.7 L1207.6,1111.8 L1209.6,1111.8 L1211.6,1111.9 L1213.6,1112.0 L1215.6,1112.0 L1217.6,1112.0 L1219.6,1112.1 L1221.6,1112.1 L1223.6,1112.2 L1225.6,1112.2 L1227.6,1112.2 L1229.6,1112.3 L1231.6,1112.3 L1233.6,1112.3 L1235.6,1112.3 L1237.6,1112.3 L1239.6,1112.4 L1241.6,1112.4 L1243.6,1112.4 L1245.6,1112.4 L1247.6,1112.4 L1249.6,1112.4 L1251.6,1112.4 L1253.6,1112.5 L1255.6,1112.5 L1257.6,1112.5 L1259.6,1112.5 L1261.6,1112.5 L1263.6,1112.5 L1265.6,1112.5 L1267.6,1112.5 L1269.6,1112.5 L1271.6,1112.5 L1273.6,1112.5 L1275.6,1112.5 L1277.6,1112.5 L1279.6,1112.5 L1281.6,1112.5 L1283.6,1112.5 L1285.6,1112.5 L1287.6,1112.5 L1289.6,1112.5 L1291.6,1112.5 L1293.6,1112.5 L1295.6,1112.5 L1297.6,1112.4 L1299.6,1112.4 L1301.6,1112.4 L1303.6,1112.4 L1305.6,1112.4 L1307.6,1112.4 L1309.6,1112.4 L1311.6,1112.4 L1313.6,1112.4 L1315.6,1112.4 L1317.6,1112.3 L1319.6,1112.3 L1321.6,1112.3 L1323.5,1112.3 L1325.5,1112.3 L1327.5,1112.3 L1329.5,1112.3 L1331.5,1112.3 L1333.5,1112.3 L1335.5,1112.2 L1337.5,1112.2 L1339.5,1112.2 L1341.5,1112.2 L1343.5,1112.2 L1345.5,1112.2 L1347.5,1112.2 L1349.5,1112.2 L1351.5,1112.1 L1353.5,1112.1 L1355.5,1112.1 L1357.5,1112.1 L1359.5,1112.1 L1361.5,1112.1 L1363.5,1112.1 L1365.5,1112.1 L1367.5,1112.1 L1369.5,1112.0 L1371.5,1112.0 L1373.5,1112.0 L1375.5,1112.0 L1377.5,1112.0 L1379.5,1112.0 L1381.5,1112.0 L1383.5,1112.0 L1385.5,1112.0 L1387.5,1112.0 L1389.5,1112.0 L1391.5,1111.9 L1393.5,1111.9 L1395.5,1111.9 L1397.5,1111.9 L1399.5,1111.9 L1401.5,1111.9 L1403.5,1111.9 L1405.5,1111.9 L1407.5,1111.9 L1409.5,1111.9 L1411.5,1111.9 L1413.5,1111.9 L1415.5,1111.9 L1417.5,1111.9 L1419.5,1111.8 L1421.5,1111.8 L1423.5,1111.8 L1425.5,1111.8 L1427.5,1111.8 L1429.5,1111.8 L1431.5,1111.8 L1433.5,1111.8 L1435.5,1111.8 L1437.5,1111.8 L1439.5,1111.8 L1441.5,1111.8 L1443.5,1111.8 L1445.5,1111.7 L1447.5,1111.7 L1449.5,1111.7 L1451.5,1111.7 L1453.5,1111.7 L1455.5,1111.7 L1457.5,1111.7 L1459.5,1111.7 L1461.5,1111.7 L1463.5,1111.7 L1465.5,1111.7 L1467.5,1111.6 L1469.5,1111.6 L1471.5,1111.6 L1473.5,1111.6 L1475.5,1111.6 L1477.5,1111.6 L1479.5,1111.6 L1481.5,1111.6 L1483.5,1111.6 L1485.5,1111.5 L1487.5,1111.5 L1489.5,1111.5 L1491.5,1111.5 L1493.5,1111.5 L1495.5,1111.5 L1497.5,1111.5 L1499.5,1111.5 L1501.5,1111.4 L1503.5,1111.4 L1505.5,1111.4 L1507.5,1111.4 L1509.5,1111.4 L1511.5,1111.4 L1513.5,1111.3 L1515.5,1111.3 L1517.5,1111.3 L1519.5,1111.3 L1521.5,1111.3 L1523.5,1111.3 L1525.5,1111.2 L1527.5,1111.2 L1529.5,1111.2 L1531.5,1111.2 L1533.5,1111.2 L1535.5,1111.2 L1537.5,1111.1 L1539.5,1111.1 L1541.5,1111.1 L1543.5,1111.1 L1545.5,1111.1 L1547.5,1111.0 L1549.5,1111.0 L1551.5,1111.0 L1553.5,1111.0 L1555.5,1111.0 L1557.5,1111.0 L1559.5,1110.9 L1561.5,1110.9 L1563.5,1110.9 L1565.5,1110.9 L1567.5,1110.9 L1569.5,1110.8 L1571.5,1110.8 L1573.5,1110.8 L1575.5,1110.8 L1577.5,1110.8 L1579.5,1110.7 L1581.5,1110.7 L1583.5,1110.7 L1585.5,1110.7 L1587.5,1110.7 L1589.5,1110.6 L1591.5,1110.6 L1593.5,1110.6 L1595.5,1110.6 L1597.5,1110.6 L1599.5,1110.6 L1601.5,1110.5 L1603.5,1110.5 L1605.5,1110.5 L1607.5,1110.5 L1609.5,1110.5 L1611.5,1110.5 L1613.5,1110.4 L1615.5,1110.4 L1617.5,1110.4 L1619.5,1110.4 L1621.5,1110.4 L1623.5,1110.4 L1625.5,1110.4 L1627.5,1110.3 L1629.5,1110.3 L1631.5,1110.3 L1633.5,1110.3 L1635.5,1110.3 L1637.5,1110.3 L1639.5,1110.3 L1641.5,1110.3 L1643.5,1110.2 L1645.5,1110.2 L1647.5,1110.2 L1649.5,1110.2 L1651.5,1110.2 L1653.5,1110.2 L1655.5,1110.2 L1657.5,1110.2 L1659.5,1110.1 L1661.5,1110.1 L1663.5,1110.1 L1665.5,1110.1 L1667.5,1110.1 L1669.5,1110.1 L1671.5,1110.1 L1673.5,1110.1 L1675.5,1110.0 L1677.5,1110.0 L1679.4,1110.0 L1681.2,1110.0 L1683.0,1110.0" fill="none" stroke="#08047a" stroke-width="12.5" stroke-linejoin="round" stroke-linecap="butt"/>
<line x1="1326.5" y1="264.3" x2="1442.5" y2="264.3" stroke="#f1ca76" stroke-width="10.5" stroke-linecap="butt"/>
<line x1="1326.0" y1="329.4" x2="1443.0" y2="329.4" stroke="#08047a" stroke-width="10.5" stroke-linecap="butt"/>
<text x="1452.7" y="279.3" class="tk">20 %</text>
<text x="1454.4" y="342.7" class="tk">40 %</text>
<text x="545.5" y="1502" class="ti">Droplet size (μm)</text>
<text transform="translate(2031,644) rotate(-90)" class="ti">Volume (%)</text>
<text transform="translate(1683.5,1469.2) rotate(-51.0)" style="font-family:'Liberation Sans',sans-serif;font-size:61.4px;fill:#1a1a1a"><tspan>Water content </tspan><tspan x="396.8" y="-3.4">(</tspan><tspan x="427.7" y="-4.1">%</tspan><tspan x="499.7" y="-7.7">w</tspan><tspan x="551.3" y="-6.6">/</tspan><tspan x="576.6" y="-8.7">w</tspan><tspan x="616.5" y="-8.8">)</tspan></text>
</svg>
</body></html>
